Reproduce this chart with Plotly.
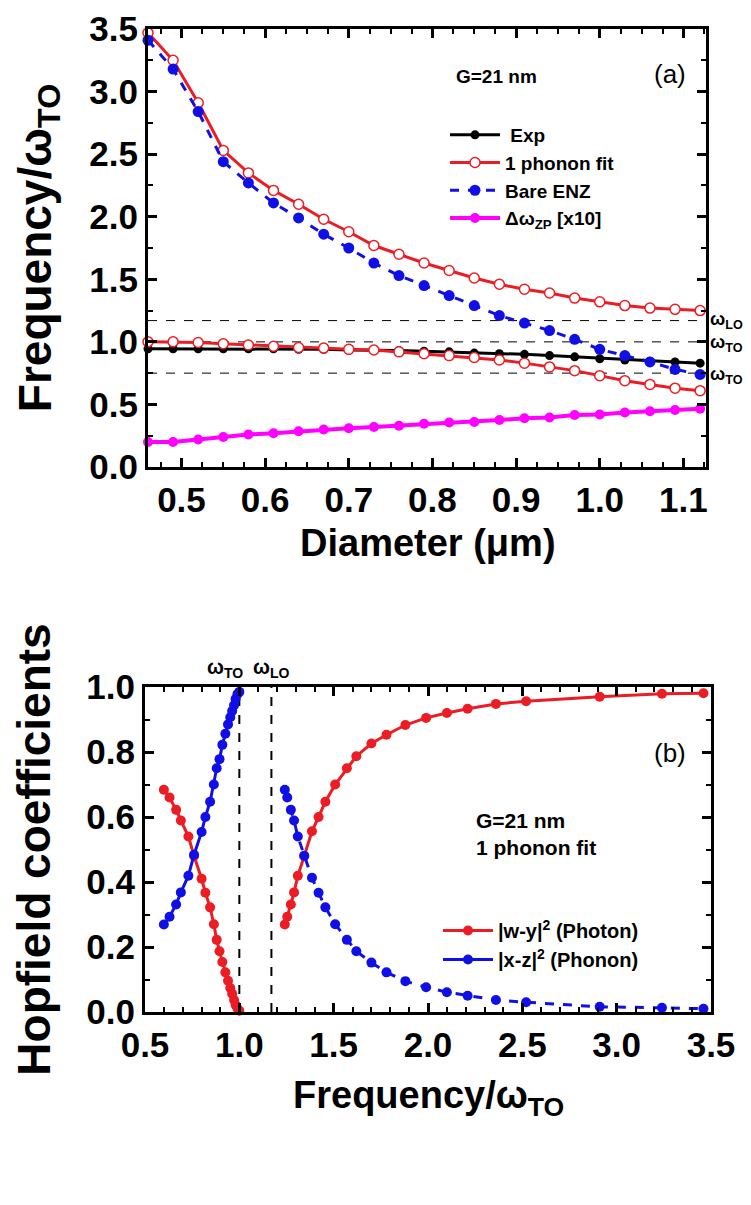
import plotly.graph_objects as go

# ---------------- data: panel (a) ----------------
diameter = [0.46, 0.49, 0.52, 0.55, 0.58, 0.61, 0.64, 0.67, 0.70, 0.73, 0.76, 0.79,
            0.82, 0.85, 0.88, 0.91, 0.94, 0.97, 1.00, 1.03, 1.06, 1.09, 1.12]
exp_vals = [0.945, 0.945, 0.945, 0.945, 0.945, 0.945, 0.94, 0.94, 0.935, 0.935, 0.93, 0.925,
            0.92, 0.91, 0.905, 0.90, 0.89, 0.88, 0.865, 0.855, 0.845, 0.84, 0.83]
fit_upper = [3.47, 3.25, 2.91, 2.53, 2.35, 2.21, 2.10, 1.98, 1.88, 1.77, 1.70, 1.63,
             1.57, 1.51, 1.46, 1.42, 1.39, 1.35, 1.32, 1.29, 1.27, 1.26, 1.25]
fit_lower = [1.00, 1.00, 0.995, 0.985, 0.975, 0.965, 0.955, 0.95, 0.94, 0.935, 0.92, 0.905,
             0.89, 0.875, 0.855, 0.83, 0.80, 0.77, 0.73, 0.69, 0.66, 0.63, 0.61]
bare_enz = [3.41, 3.18, 2.84, 2.44, 2.27, 2.11, 1.99, 1.86, 1.75, 1.63, 1.53, 1.45,
            1.37, 1.29, 1.21, 1.15, 1.09, 1.02, 0.94, 0.89, 0.84, 0.78, 0.74]
dw_zp = [0.20, 0.20, 0.22, 0.24, 0.26, 0.27, 0.285, 0.30, 0.31, 0.32, 0.33, 0.345,
         0.355, 0.36, 0.375, 0.39, 0.395, 0.415, 0.42, 0.435, 0.445, 0.455, 0.465]
ref_lines_a = [1.17, 1.0, 0.75]
ref_labels_a = ["ω<sub>LO</sub>", "ω<sub>TO</sub>", "ω<sub>TO</sub>"]

# ---------------- data: panel (b) ----------------
freq_lower = [0.60, 0.63, 0.665, 0.69, 0.73, 0.76, 0.80, 0.82, 0.845, 0.865, 0.88,
              0.895, 0.91, 0.926, 0.94, 0.952, 0.962, 0.972, 0.98, 0.99, 1.0]
photon_lower = [0.684, 0.66, 0.622, 0.589, 0.54, 0.48, 0.41, 0.367, 0.322, 0.27, 0.222,
                0.187, 0.154, 0.122, 0.096, 0.074, 0.056, 0.037, 0.022, 0.011, 0.004]
phonon_lower = [0.269, 0.293, 0.331, 0.368, 0.419, 0.484, 0.554, 0.60, 0.647, 0.70, 0.75,
                0.778, 0.822, 0.856, 0.885, 0.907, 0.926, 0.944, 0.963, 0.978, 0.985]
freq_upper = [1.241, 1.254, 1.273, 1.29, 1.31, 1.344, 1.385, 1.42, 1.456, 1.508, 1.57, 1.62,
              1.70, 1.78, 1.88, 1.99, 2.10, 2.21, 2.36, 2.52, 2.91, 3.24, 3.46]
photon_upper = [0.269, 0.293, 0.331, 0.368, 0.419, 0.48, 0.556, 0.60, 0.647, 0.70, 0.75, 0.787,
                0.826, 0.853, 0.883, 0.905, 0.92, 0.933, 0.948, 0.956, 0.97, 0.979, 0.981]
phonon_upper = [0.684, 0.66, 0.622, 0.589, 0.54, 0.481, 0.413, 0.367, 0.322, 0.27, 0.222, 0.187,
                0.152, 0.122, 0.095, 0.076, 0.061, 0.05, 0.037, 0.03, 0.016, 0.013, 0.01]
ref_lines_b = [1.0, 1.17]
ref_labels_b = ["ω<sub>TO</sub>", "ω<sub>LO</sub>"]

RED = "#ec1c24"
BLUE = "#1010e6"
MAG = "#ff00ff"
BLK = "#000000"

W, H = 751, 1205
SANS = "Liberation Sans, Arial"
TICKFONT = dict(family="Liberation Sans Narrow, Arial Narrow, Liberation Sans", size=35,
                color="black", weight="bold")
XTITLE = dict(family=SANS, size=38, color="black", weight="bold")
YTITLE = dict(family=SANS, size=46, color="black", weight="bold")

fig = go.Figure()

# ---- panel (a) traces ----
fig.add_trace(go.Scatter(x=diameter, y=exp_vals, mode="lines+markers", name=" Exp",
                         line=dict(color=BLK, width=3), marker=dict(color=BLK, size=9),
                         xaxis="x", yaxis="y", legend="legend", cliponaxis=False))
fig.add_trace(go.Scatter(x=diameter, y=fit_upper, mode="lines+markers", name="1 phonon fit",
                         line=dict(color=RED, width=3),
                         marker=dict(color="white", size=10, line=dict(color=RED, width=1.5)),
                         xaxis="x", yaxis="y", legend="legend", cliponaxis=False))
fig.add_trace(go.Scatter(x=diameter, y=fit_lower, mode="lines+markers", name="1 phonon fit",
                         showlegend=False, line=dict(color=RED, width=3),
                         marker=dict(color="white", size=10, line=dict(color=RED, width=1.5)),
                         xaxis="x", yaxis="y", legend="legend", cliponaxis=False))
fig.add_trace(go.Scatter(x=diameter, y=bare_enz, mode="lines+markers", name="Bare ENZ",
                         line=dict(color=BLUE, width=3, dash="dash"), marker=dict(color=BLUE, size=11),
                         xaxis="x", yaxis="y", legend="legend", cliponaxis=False))
fig.add_trace(go.Scatter(x=diameter, y=dw_zp, mode="lines+markers", name="Δω<sub>ZP</sub> [x10]",
                         line=dict(color=MAG, width=4), marker=dict(color=MAG, size=10),
                         xaxis="x", yaxis="y", legend="legend", cliponaxis=False))

# ---- panel (b) traces ----
fig.add_trace(go.Scatter(x=freq_lower, y=photon_lower, mode="lines+markers",
                         name="|w-y|<sup>2</sup> (Photon)",
                         line=dict(color=RED, width=3), marker=dict(color=RED, size=10),
                         xaxis="x2", yaxis="y2", legend="legend2", cliponaxis=False))
fig.add_trace(go.Scatter(x=freq_upper, y=photon_upper, mode="lines+markers", showlegend=False,
                         name="|w-y|<sup>2</sup> (Photon)",
                         line=dict(color=RED, width=3), marker=dict(color=RED, size=10),
                         xaxis="x2", yaxis="y2", legend="legend2", cliponaxis=False))
fig.add_trace(go.Scatter(x=freq_lower, y=phonon_lower, mode="lines+markers",
                         name="|x-z|<sup>2</sup> (Phonon)",
                         line=dict(color=BLUE, width=3), marker=dict(color=BLUE, size=10),
                         xaxis="x2", yaxis="y2", legend="legend2", cliponaxis=False))
fig.add_trace(go.Scatter(x=freq_upper, y=phonon_upper, mode="lines+markers", showlegend=False,
                         name="|x-z|<sup>2</sup> (Phonon)",
                         line=dict(color=BLUE, width=3, dash="dash"), marker=dict(color=BLUE, size=10),
                         xaxis="x2", yaxis="y2", legend="legend2", cliponaxis=False))

# ---- reference lines ----
shapes = []
for v in ref_lines_a:
    shapes.append(dict(type="line", xref="x domain", yref="y", x0=0, x1=1, y0=v, y1=v,
                       line=dict(color="black", width=1, dash="dash"), layer="below"))
for v in ref_lines_b:
    shapes.append(dict(type="line", xref="x2", yref="y2 domain", x0=v, x1=v, y0=0, y1=1,
                       line=dict(color="black", width=2, dash="dash"), layer="below"))

annotations = []
shifts_a = [0, -2, -2]
for v, lab, s in zip(ref_lines_a, ref_labels_a, shifts_a):
    annotations.append(dict(text=lab, xref="x domain", yref="y", x=1.004, y=v, yshift=s,
                            xanchor="left", yanchor="middle", showarrow=False,
                            font=dict(family=SANS, size=18, color="black", weight="bold")))
xshift_b = [-14, 0]
for v, lab, s in zip(ref_lines_b, ref_labels_b, xshift_b):
    annotations.append(dict(text=lab, xref="x2", yref="y2 domain", x=v, y=1.0, yshift=4, xshift=s,
                            xanchor="center", yanchor="bottom", showarrow=False,
                            font=dict(family=SANS, size=20, color="black", weight="bold")))

annotations += [
    dict(text="G=21 nm", xref="paper", yref="paper", x=488 / W, y=1 - 68 / H, showarrow=False,
         xanchor="center", yanchor="middle",
         font=dict(family=SANS, size=19, color="black", weight="bold")),
    dict(text="(a)", xref="paper", yref="paper", x=662 / W, y=1 - 66 / H, showarrow=False,
         xanchor="center", yanchor="middle", font=dict(family=SANS, size=26, color="black")),
    dict(text="(b)", xref="paper", yref="paper", x=662 / W, y=1 - 745 / H, showarrow=False,
         xanchor="center", yanchor="middle", font=dict(family=SANS, size=26, color="black")),
    dict(text="G=21 nm<br>1 phonon fit", xref="paper", yref="paper", x=466 / W, y=1 - 826 / H,
         showarrow=False, xanchor="left", yanchor="middle", align="left",
         font=dict(family=SANS, size=21, color="black", weight="bold")),
    # x-axis titles
    dict(text="Diameter (μm)", xref="paper", yref="paper", x=420 / W, y=1 - 535 / H,
         showarrow=False, xanchor="center", yanchor="middle", font=XTITLE),
    dict(text="Frequency/ω<sub>TO</sub>", xref="paper", yref="paper", x=420 / W, y=1 - 1090 / H,
         showarrow=False, xanchor="center", yanchor="middle", font=XTITLE),
]

axis_common = dict(showline=True, linecolor="black", linewidth=3, mirror="ticks",
                   ticks="inside", ticklen=9, tickwidth=2.5, tickcolor="black",
                   showgrid=False, zeroline=False, tickfont=TICKFONT, automargin=False,
                   ticklabeloverflow="allow")
minor_common = dict(ticks="inside", ticklen=5, tickwidth=2, tickcolor="black")

fig.update_layout(
    width=W, height=H, autosize=False,
    margin=dict(l=0, r=0, t=0, b=0),
    plot_bgcolor="white", paper_bgcolor="white",
    shapes=shapes, annotations=annotations,
    xaxis=dict(axis_common, domain=[140 / W, 698 / W], anchor="y", range=[0.46, 1.127],
               dtick=0.1, tick0=0, tickformat=".1f",
               minor=dict(minor_common, dtick=0.025)),
    yaxis=dict(axis_common, domain=[1 - 459 / H, 1 - 21 / H], anchor="x", range=[0, 3.5],
               dtick=0.5, tick0=0, tickformat=".1f",
               minor=dict(minor_common, dtick=0.25),
               title=dict(text="Frequency/ω<sub>TO</sub>", standoff=24, font=YTITLE)),
    xaxis2=dict(axis_common, domain=[137 / W, 703 / W], anchor="y2", range=[0.5, 3.5],
                dtick=0.5, tick0=0, tickformat=".1f",
                minor=dict(minor_common, dtick=0.1)),
    yaxis2=dict(axis_common, domain=[1 - 1004 / H, 1 - 679 / H], anchor="x2", range=[0, 1.0],
                dtick=0.2, tick0=0, tickformat=".1f",
                minor=dict(minor_common, dtick=0.1),
                title=dict(text="Hopfield coefficients", standoff=22, font=YTITLE)),
    legend=dict(x=437 / W, y=1 - 108 / H, xanchor="left", yanchor="top",
                bgcolor="rgba(0,0,0,0)",
                font=dict(family=SANS, size=19, color="black", weight="bold"),
                itemwidth=50, tracegroupgap=0),
    legend2=dict(x=430 / W, y=1 - 903 / H, xanchor="left", yanchor="top",
                 bgcolor="rgba(0,0,0,0)",
                 font=dict(family=SANS, size=20, color="black", weight="bold"),
                 itemwidth=50, tracegroupgap=0),
)

fig.write_html("out.html")
